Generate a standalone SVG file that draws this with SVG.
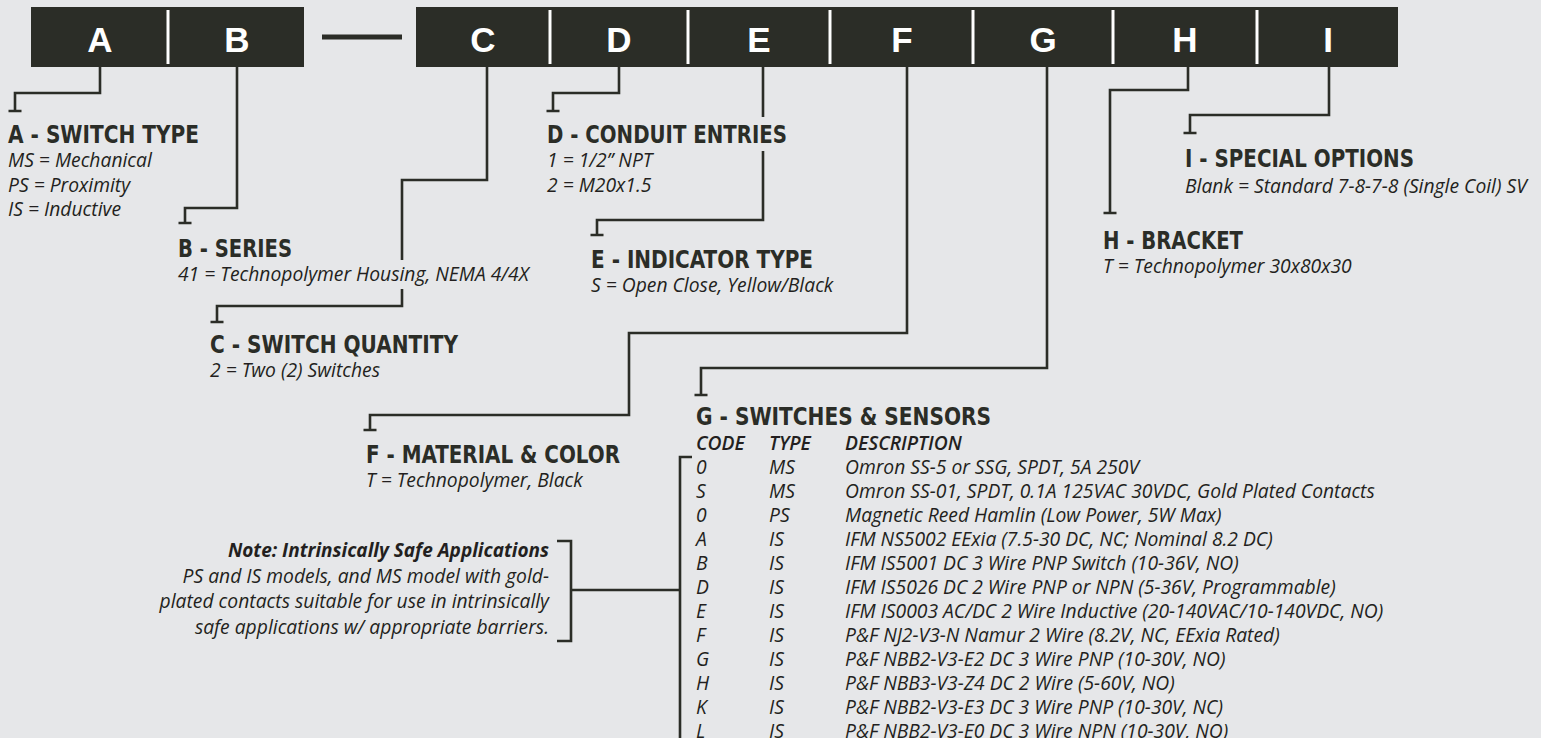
<svg xmlns="http://www.w3.org/2000/svg" width="1541" height="738" viewBox="0 0 1541 738">
<style>
.bg{fill:#e6e7e9}
.box{fill:#2b2d27}
.div{stroke:#ffffff;stroke-width:3}
.let{font-family:"Liberation Sans",Arial,sans-serif;font-weight:bold;font-size:35px;fill:#ffffff;text-anchor:middle}
.ttl{font-family:"Liberation Sans Narrow","DejaVu Sans Condensed","Liberation Sans",sans-serif;font-weight:bold;font-size:25px;fill:#2b2d27}
.d{font-family:"Open Sans","Liberation Sans",sans-serif;font-style:italic;font-size:19.3px;fill:#231f20}
.hd{font-family:"Open Sans","Liberation Sans",sans-serif;font-style:italic;font-weight:600;font-size:19.3px;fill:#231f20}
.nb{font-family:"Open Sans","Liberation Sans",sans-serif;font-style:italic;font-weight:bold;font-size:19px;fill:#231f20;text-anchor:end}
.nt{font-family:"Open Sans","Liberation Sans",sans-serif;font-style:italic;font-size:19.3px;fill:#231f20;text-anchor:end}
.ln{fill:none;stroke:#2b2d27;stroke-width:2.6}
</style>
<rect class="bg" x="0" y="0" width="1541" height="738"/>

<g id="code-bar">
<rect class="box" x="31" y="7" width="273" height="60"/>
<rect class="box" x="322" y="34.5" width="80" height="5"/>
<rect class="box" x="416" y="7" width="982" height="60"/>
<line class="div" x1="168" y1="10" x2="168" y2="64"/>
<line class="div" x1="550" y1="10" x2="550" y2="64"/>
<line class="div" x1="688" y1="10" x2="688" y2="64"/>
<line class="div" x1="830" y1="10" x2="830" y2="64"/>
<line class="div" x1="973" y1="10" x2="973" y2="64"/>
<line class="div" x1="1113" y1="10" x2="1113" y2="64"/>
<line class="div" x1="1257" y1="10" x2="1257" y2="64"/>
<text class="let" x="100" y="52">A</text>
<text class="let" x="237" y="52">B</text>
<text class="let" x="483" y="52">C</text>
<text class="let" x="619" y="52">D</text>
<text class="let" x="759" y="52">E</text>
<text class="let" x="902" y="52">F</text>
<text class="let" x="1043" y="52">G</text>
<text class="let" x="1185" y="52">H</text>
<text class="let" x="1328" y="52">I</text>
</g>

<g id="connectors">
<path class="ln" d="M100,67 V93 H15 V111 M8.5,111 H21.5"/>
<path class="ln" d="M237,67 V208 H185 V223 M178.5,223 H191.5"/>
<path class="ln" d="M487,67 V180 H402 V260 M402,289 V306 H217 V322 M210.5,322 H223.5"/>
<path class="ln" d="M619,67 V93 H553 V111 M546.5,111 H559.5"/>
<path class="ln" d="M763,67 V117 M763,151 V220 H597 V235 M590.5,235 H603.5"/>
<path class="ln" d="M907,67 V333 H629 V415 H370 V430 M363.5,430 H376.5"/>
<path class="ln" d="M1047,67 V368 H701 V395 M694.5,395 H707.5"/>
<path class="ln" d="M1188,67 V90 H1110 V213 M1103.5,213 H1116.5"/>
<path class="ln" d="M1329,67 V115 H1190 V133 M1183.5,133 H1196.5"/>
<path class="ln" d="M692,457 H680 V745"/>
<path class="ln" d="M572,590 H680"/>
<path class="ln" d="M557,541 H571 V641 H557"/>
</g>

<g id="node-A">
<text class="ttl" x="8" y="143" textLength="191" lengthAdjust="spacingAndGlyphs">A - SWITCH TYPE</text>
<text class="d" x="8" y="167">MS = Mechanical</text>
<text class="d" x="8" y="192">PS = Proximity</text>
<text class="d" x="8" y="216">IS = Inductive</text>
</g>
<g id="node-B">
<text class="ttl" x="178" y="257" textLength="114" lengthAdjust="spacingAndGlyphs">B - SERIES</text>
<text class="d" x="178" y="281">41 = Technopolymer Housing, NEMA 4/4X</text>
</g>
<g id="node-C">
<text class="ttl" x="210" y="353" textLength="248" lengthAdjust="spacingAndGlyphs">C - SWITCH QUANTITY</text>
<text class="d" x="210" y="377">2 = Two (2) Switches</text>
</g>
<g id="node-D">
<text class="ttl" x="547" y="143" textLength="240" lengthAdjust="spacingAndGlyphs">D - CONDUIT ENTRIES</text>
<text class="d" x="547" y="167">1 = 1/2” NPT</text>
<text class="d" x="547" y="192">2 = M20x1.5</text>
</g>
<g id="node-E">
<text class="ttl" x="591" y="268" textLength="222" lengthAdjust="spacingAndGlyphs">E - INDICATOR TYPE</text>
<text class="d" x="591" y="292">S = Open Close, Yellow/Black</text>
</g>
<g id="node-F">
<text class="ttl" x="366" y="463" textLength="254" lengthAdjust="spacingAndGlyphs">F - MATERIAL &amp; COLOR</text>
<text class="d" x="366" y="487">T = Technopolymer, Black</text>
</g>
<g id="node-G">
<text class="ttl" x="696" y="425" textLength="295" lengthAdjust="spacingAndGlyphs">G - SWITCHES &amp; SENSORS</text>
<text class="hd" x="696" y="450">CODE</text>
<text class="hd" x="769" y="450">TYPE</text>
<text class="hd" x="845" y="450">DESCRIPTION</text>
<g class="d">
<text x="696" y="474">0</text><text x="769" y="474">MS</text><text x="845" y="474">Omron SS-5 or SSG, SPDT, 5A 250V</text>
<text x="696" y="498">S</text><text x="769" y="498">MS</text><text x="845" y="498">Omron SS-01, SPDT, 0.1A 125VAC 30VDC, Gold Plated Contacts</text>
<text x="696" y="522">0</text><text x="769" y="522">PS</text><text x="845" y="522">Magnetic Reed Hamlin (Low Power, 5W Max)</text>
<text x="696" y="546">A</text><text x="769" y="546">IS</text><text x="845" y="546">IFM NS5002 EExia (7.5-30 DC, NC; Nominal 8.2 DC)</text>
<text x="696" y="570">B</text><text x="769" y="570">IS</text><text x="845" y="570">IFM IS5001 DC 3 Wire PNP Switch (10-36V, NO)</text>
<text x="696" y="594">D</text><text x="769" y="594">IS</text><text x="845" y="594">IFM IS5026 DC 2 Wire PNP or NPN (5-36V, Programmable)</text>
<text x="696" y="618">E</text><text x="769" y="618">IS</text><text x="845" y="618">IFM IS0003 AC/DC 2 Wire Inductive (20-140VAC/10-140VDC, NO)</text>
<text x="696" y="642">F</text><text x="769" y="642">IS</text><text x="845" y="642">P&amp;F NJ2-V3-N Namur 2 Wire (8.2V, NC, EExia Rated)</text>
<text x="696" y="666">G</text><text x="769" y="666">IS</text><text x="845" y="666">P&amp;F NBB2-V3-E2 DC 3 Wire PNP (10-30V, NO)</text>
<text x="696" y="690">H</text><text x="769" y="690">IS</text><text x="845" y="690">P&amp;F NBB3-V3-Z4 DC 2 Wire (5-60V, NO)</text>
<text x="696" y="714">K</text><text x="769" y="714">IS</text><text x="845" y="714">P&amp;F NBB2-V3-E3 DC 3 Wire PNP (10-30V, NC)</text>
<text x="696" y="738">L</text><text x="769" y="738">IS</text><text x="845" y="738">P&amp;F NBB2-V3-E0 DC 3 Wire NPN (10-30V, NO)</text>
</g>
</g>
<g id="node-H">
<text class="ttl" x="1103" y="249" textLength="140" lengthAdjust="spacingAndGlyphs">H - BRACKET</text>
<text class="d" x="1103" y="273">T = Technopolymer 30x80x30</text>
</g>
<g id="node-I">
<text class="ttl" x="1185" y="167" textLength="229" lengthAdjust="spacingAndGlyphs">I - SPECIAL OPTIONS</text>
<text class="d" x="1185" y="193">Blank = Standard 7-8-7-8 (Single Coil) SV</text>
</g>
<g id="note">
<text class="nb" x="549" y="557">Note: Intrinsically Safe Applications</text>
<text class="nt" x="549" y="583">PS and IS models, and MS model with gold-</text>
<text class="nt" x="549" y="608">plated contacts suitable for use in intrinsically</text>
<text class="nt" x="549" y="634">safe applications w/ appropriate barriers.</text>
</g>
</svg>
